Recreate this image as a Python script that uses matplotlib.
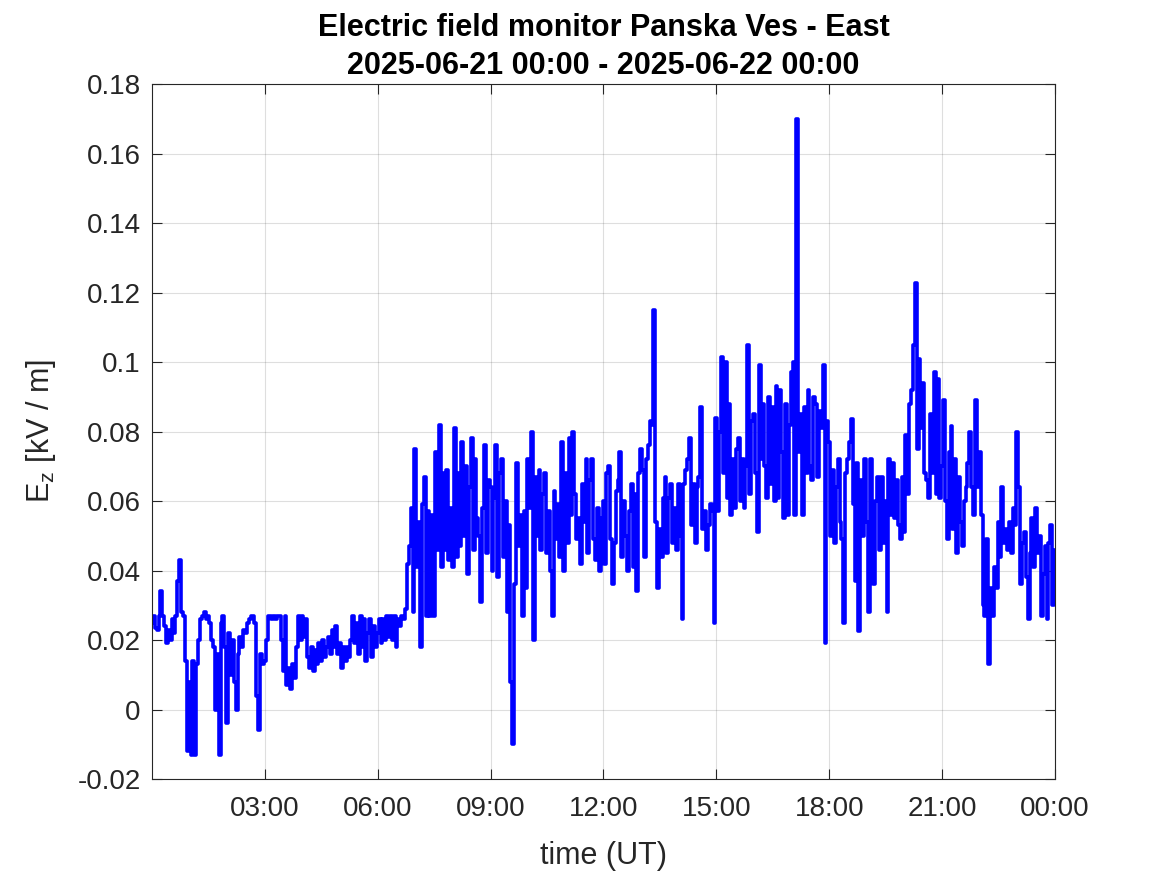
import numpy as np
import matplotlib
matplotlib.use("Agg")
import matplotlib.pyplot as plt

plt.rcParams['font.family'] = ['Liberation Sans', 'DejaVu Sans']
plt.rcParams['mathtext.fontset'] = 'custom'
plt.rcParams['mathtext.rm'] = 'Liberation Sans'

# sampling step of the series (hours)
dt_hours = 0.05

# E_z [kV/m] in 3-hour blocks
ez_00h = [0.025, 0.027, 0.0235, 0.023, 0.027, 0.034, 0.027, 0.024, 0.019, 0.023,
          0.020, 0.026, 0.022, 0.027, 0.037, 0.043, 0.028, 0.027, 0.014, -0.012,
          0.008, -0.013, 0.014, -0.013, 0.013, 0.020, 0.026, 0.027, 0.028, 0.026,
          0.027, 0.025, 0.020, 0.018, 0.000, 0.016, -0.013, 0.025, 0.027, 0.018,
          -0.004, 0.022, 0.010, 0.020, 0.008, 0.000, 0.016, 0.021, 0.018, 0.023,
          0.022, 0.025, 0.026, 0.027, 0.027, 0.025, 0.004, -0.006, 0.016, 0.013]
ez_03h = [0.014, 0.020, 0.027, 0.027, 0.026, 0.027, 0.026, 0.027, 0.027, 0.020,
          0.011, 0.027, 0.007, 0.012, 0.006, 0.013, 0.009, 0.018, 0.027, 0.020,
          0.027, 0.021, 0.026, 0.015, 0.012, 0.018, 0.011, 0.017, 0.013, 0.019,
          0.014, 0.020, 0.015, 0.018, 0.021, 0.016, 0.023, 0.018, 0.024, 0.016,
          0.019, 0.012, 0.018, 0.014, 0.018, 0.015, 0.020, 0.027, 0.019, 0.025,
          0.016, 0.027, 0.018, 0.026, 0.014, 0.022, 0.026, 0.015, 0.024, 0.018]
ez_06h = [0.022, 0.026, 0.019, 0.026, 0.020, 0.027, 0.021, 0.027, 0.020, 0.027,
          0.018, 0.026, 0.024, 0.027, 0.026, 0.029, 0.042, 0.047, 0.058, 0.028,
          0.075, 0.041, 0.054, 0.018, 0.059, 0.067, 0.027, 0.057, 0.027, 0.056,
          0.027, 0.074, 0.046, 0.082, 0.041, 0.068, 0.046, 0.069, 0.043, 0.058,
          0.041, 0.081, 0.044, 0.068, 0.047, 0.077, 0.050, 0.070, 0.039, 0.064,
          0.078, 0.046, 0.072, 0.055, 0.050, 0.031, 0.058, 0.076, 0.045, 0.066]
ez_09h = [0.064, 0.040, 0.061, 0.076, 0.038, 0.068, 0.072, 0.044, 0.060, 0.028,
          0.053, 0.008, -0.010, 0.036, 0.071, 0.047, 0.056, 0.027, 0.057, 0.035,
          0.072, 0.058, 0.080, 0.020, 0.067, 0.050, 0.069, 0.046, 0.062, 0.068,
          0.045, 0.057, 0.040, 0.027, 0.063, 0.049, 0.059, 0.044, 0.077, 0.040,
          0.068, 0.048, 0.078, 0.056, 0.080, 0.062, 0.049, 0.055, 0.042, 0.065,
          0.054, 0.072, 0.045, 0.066, 0.072, 0.049, 0.043, 0.058, 0.040, 0.055]
ez_12h = [0.060, 0.042, 0.068, 0.070, 0.049, 0.036, 0.048, 0.063, 0.066, 0.074,
          0.044, 0.060, 0.050, 0.040, 0.057, 0.065, 0.041, 0.062, 0.034, 0.068,
          0.075, 0.069, 0.044, 0.072, 0.076, 0.083, 0.082, 0.115, 0.054, 0.035,
          0.052, 0.044, 0.061, 0.067, 0.045, 0.061, 0.065, 0.048, 0.058, 0.046,
          0.065, 0.050, 0.026, 0.065, 0.069, 0.072, 0.078, 0.053, 0.065, 0.048,
          0.064, 0.067, 0.087, 0.052, 0.057, 0.046, 0.053, 0.059, 0.057, 0.025]
ez_15h = [0.084, 0.057, 0.080, 0.1015, 0.068, 0.100, 0.061, 0.088, 0.056, 0.072,
          0.058, 0.075, 0.078, 0.060, 0.072, 0.058, 0.070, 0.105, 0.062, 0.083,
          0.085, 0.068, 0.051, 0.099, 0.072, 0.088, 0.070, 0.061, 0.090, 0.065,
          0.087, 0.060, 0.093, 0.061, 0.092, 0.074, 0.055, 0.088, 0.056, 0.082,
          0.097, 0.100, 0.056, 0.170, 0.074, 0.085, 0.056, 0.087, 0.068, 0.092,
          0.070, 0.066, 0.090, 0.088, 0.067, 0.086, 0.081, 0.099, 0.019, 0.083]
ez_18h = [0.077, 0.050, 0.069, 0.048, 0.064, 0.072, 0.054, 0.049, 0.025, 0.068,
          0.072, 0.077, 0.0835, 0.059, 0.037, 0.071, 0.0225, 0.066, 0.050, 0.072,
          0.054, 0.028, 0.072, 0.052, 0.036, 0.060, 0.067, 0.046, 0.067, 0.048,
          0.060, 0.028, 0.072, 0.056, 0.071, 0.055, 0.066, 0.053, 0.049, 0.067,
          0.051, 0.079, 0.062, 0.088, 0.092, 0.105, 0.1226, 0.075, 0.101, 0.081,
          0.094, 0.068, 0.066, 0.061, 0.085, 0.068, 0.097, 0.062, 0.095, 0.061]
ez_21h = [0.070, 0.089, 0.060, 0.049, 0.074, 0.0815, 0.052, 0.072, 0.045, 0.067,
          0.054, 0.047, 0.060, 0.064, 0.071, 0.080, 0.064, 0.056, 0.089, 0.064,
          0.074, 0.056, 0.030, 0.027, 0.049, 0.013, 0.035, 0.027, 0.041, 0.035,
          0.054, 0.044, 0.064, 0.048, 0.052, 0.046, 0.054, 0.045, 0.058, 0.053,
          0.080, 0.064, 0.036, 0.048, 0.051, 0.038, 0.026, 0.045, 0.055, 0.041,
          0.058, 0.045, 0.050, 0.027, 0.039, 0.047, 0.026, 0.048, 0.053, 0.030,
          0.046]

x_tick_hours = [3, 6, 9, 12, 15, 18, 21, 24]
x_tick_labels = ["03:00", "06:00", "09:00", "12:00", "15:00", "18:00", "21:00", "00:00"]
y_ticks = [-0.02, 0, 0.02, 0.04, 0.06, 0.08, 0.1, 0.12, 0.14, 0.16, 0.18]
y_tick_labels = ["-0.02", "0", "0.02", "0.04", "0.06", "0.08", "0.1", "0.12", "0.14", "0.16", "0.18"]

ez = np.concatenate([ez_00h, ez_03h, ez_06h, ez_09h, ez_12h, ez_15h, ez_18h, ez_21h])
hours = np.arange(ez.size) * dt_hours

dark = '#262626'

fig = plt.figure(figsize=(11.67, 8.75), dpi=100)
ax = fig.add_axes([0.1302, 0.1097, 0.7738, 0.7943])
# stepped drawing gives the blocky, dense look of the sampled record
ax.plot(hours, ez, color=(0, 0, 1), lw=2.6, drawstyle='steps-mid')

ax.set_xlim(0, 24)
ax.set_ylim(-0.02, 0.18)
ax.set_xticks(x_tick_hours)
ax.set_xticklabels(x_tick_labels)
ax.set_yticks(y_ticks)
ax.set_yticklabels(y_tick_labels)

ax.grid(True, color=dark, alpha=0.15, lw=0.8)
ax.tick_params(direction='in', length=7, width=0.8, top=True, right=True,
               labelsize=20, colors=dark)
ax.tick_params(axis='x', pad=12)
ax.tick_params(axis='y', pad=8)
for s in ax.spines.values():
    s.set_color(dark)
    s.set_linewidth(0.8)

ax.set_title('Electric field monitor Panska Ves - East\n2025-06-21 00:00 - 2025-06-22 00:00',
             fontsize=22, fontweight='bold', color='black', pad=7, linespacing=1.35)
ax.set_xlabel('time (UT)', fontsize=22, color=dark, labelpad=14)
ax.set_ylabel(r'$\mathregular{E_z}$ [kV / m]', fontsize=22, color=dark, labelpad=14)

fig.savefig('out.png', dpi=100)
